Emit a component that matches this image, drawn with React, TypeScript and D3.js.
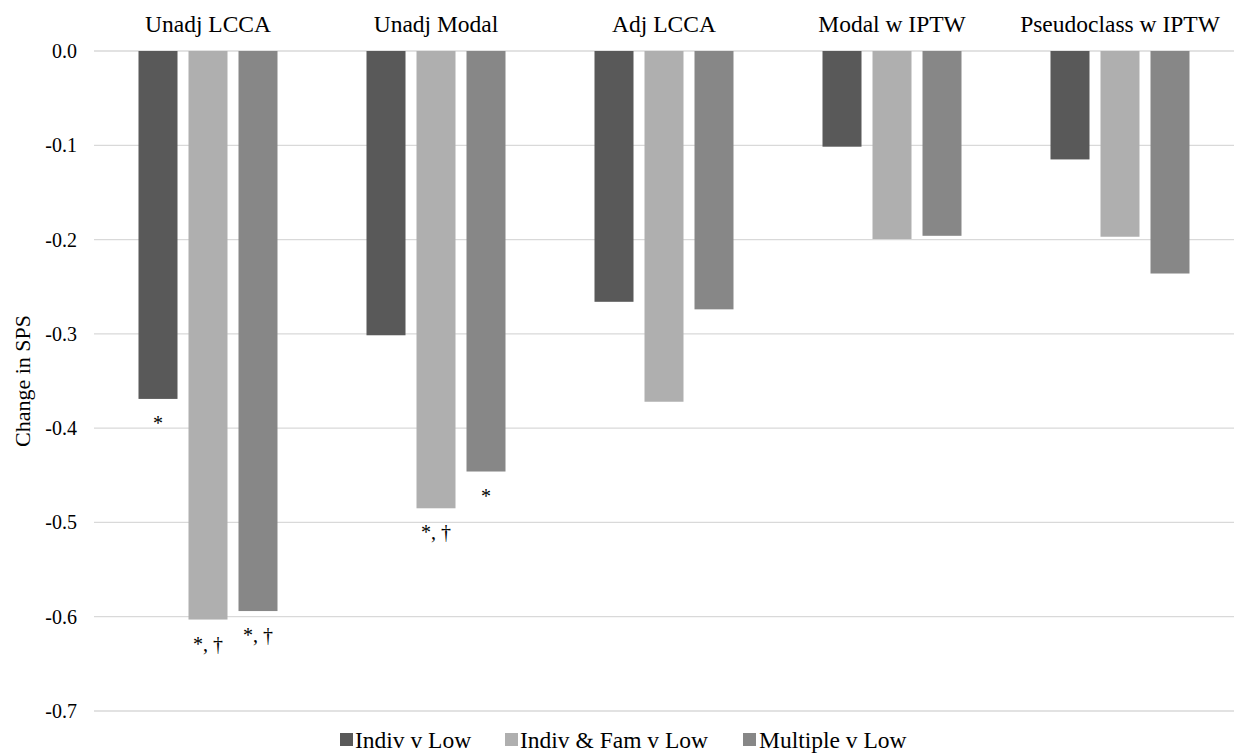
import React from "react";
import * as d3 from "d3";

const categories = ["Unadj LCCA", "Unadj Modal", "Adj LCCA", "Modal w IPTW", "Pseudoclass w IPTW"];
const seriesNames = ["Indiv v Low", "Indiv & Fam v Low", "Multiple v Low"];
const seriesColors = ["#595959", "#afafaf", "#878787"];
const indivVLow = [-0.369, -0.3015, -0.266, -0.1015, -0.115];
const indivFamVLow = [-0.603, -0.485, -0.372, -0.1995, -0.197];
const multipleVLow = [-0.594, -0.446, -0.274, -0.196, -0.236];
const indivAnnot = ["*", "", "", "", ""];
const indivFamAnnot = ["*, \u2020", "*, \u2020", "", "", ""];
const multipleAnnot = ["*, \u2020", "*", "", "", ""];
const yTicks = [0, -0.1, -0.2, -0.3, -0.4, -0.5, -0.6, -0.7];

const seriesValues = [indivVLow, indivFamVLow, multipleVLow];
const seriesAnnots = [indivAnnot, indivFamAnnot, multipleAnnot];

const W = 1244;
const H = 754;
const FONT = "'Liberation Serif', 'DejaVu Serif', serif";

export default function App() {
  const left = 94;
  const right = 1234;
  const top = 51;
  const bottom = 711;

  const y = d3.scaleLinear().domain([0, -0.7]).range([top, bottom]);
  const x0 = d3.scaleBand<string>().domain(categories).range([left, right]).padding(0);
  const x1 = d3
    .scaleBand<string>()
    .domain(seriesNames)
    .range([0, 150])
    .paddingInner(0.22)
    .paddingOuter(0.11);
  const groupOffset = (x0.bandwidth() - 150) / 2;

  const legendItems = [
    { x: 340, textX: 355 },
    { x: 505, textX: 520 },
    { x: 743, textX: 759 },
  ];

  return (
    <svg
      width={W}
      height={H}
      style={{ position: "absolute", left: 0, top: 0, background: "#fff" }}
      fontFamily={FONT}
    >
      <rect x={0} y={0} width={W} height={H} fill="#fff" />
      {yTicks.map((t) => (
        <g key={t}>
          <line x1={left} x2={right} y1={y(t)} y2={y(t)} stroke="#d9d9d9" strokeWidth={1.3} />
          <text x={77} y={y(t)} dy="0.35em" textAnchor="end" fontSize={20} fill="#000">
            {t === 0 ? "0.0" : t.toFixed(1)}
          </text>
        </g>
      ))}
      <text
        transform={`translate(22, ${(top + bottom) / 2}) rotate(-90)`}
        textAnchor="middle"
        dy="0.35em"
        fontSize={22}
        fill="#000"
      >
        Change in SPS
      </text>
      {categories.map((c, ci) => (
        <g key={c}>
          <text
            x={(x0(c) as number) + x0.bandwidth() / 2}
            y={24}
            dy="0.35em"
            textAnchor="middle"
            fontSize={23.5}
            fill="#000"
          >
            {c}
          </text>
          {seriesNames.map((s, si) => {
            const v = seriesValues[si][ci];
            const bx = (x0(c) as number) + groupOffset + (x1(s) as number);
            const ann = seriesAnnots[si][ci];
            return (
              <g key={s}>
                <rect
                  x={bx}
                  y={y(0)}
                  width={x1.bandwidth()}
                  height={y(v) - y(0)}
                  fill={seriesColors[si]}
                />
                {ann && (
                  <text
                    x={bx + x1.bandwidth() / 2}
                    y={y(v) + (ann === "*" ? 24 : 24)}
                    dy="0.35em"
                    textAnchor="middle"
                    fontSize={20}
                    fill="#000"
                  >
                    {ann}
                  </text>
                )}
              </g>
            );
          })}
        </g>
      ))}
      {seriesNames.map((s, si) => (
        <g key={s}>
          <rect x={legendItems[si].x} y={733} width={13} height={13} fill={seriesColors[si]} />
          <text x={legendItems[si].textX} y={740} dy="0.35em" fontSize={23.5} fill="#000">
            {s}
          </text>
        </g>
      ))}
    </svg>
  );
}
